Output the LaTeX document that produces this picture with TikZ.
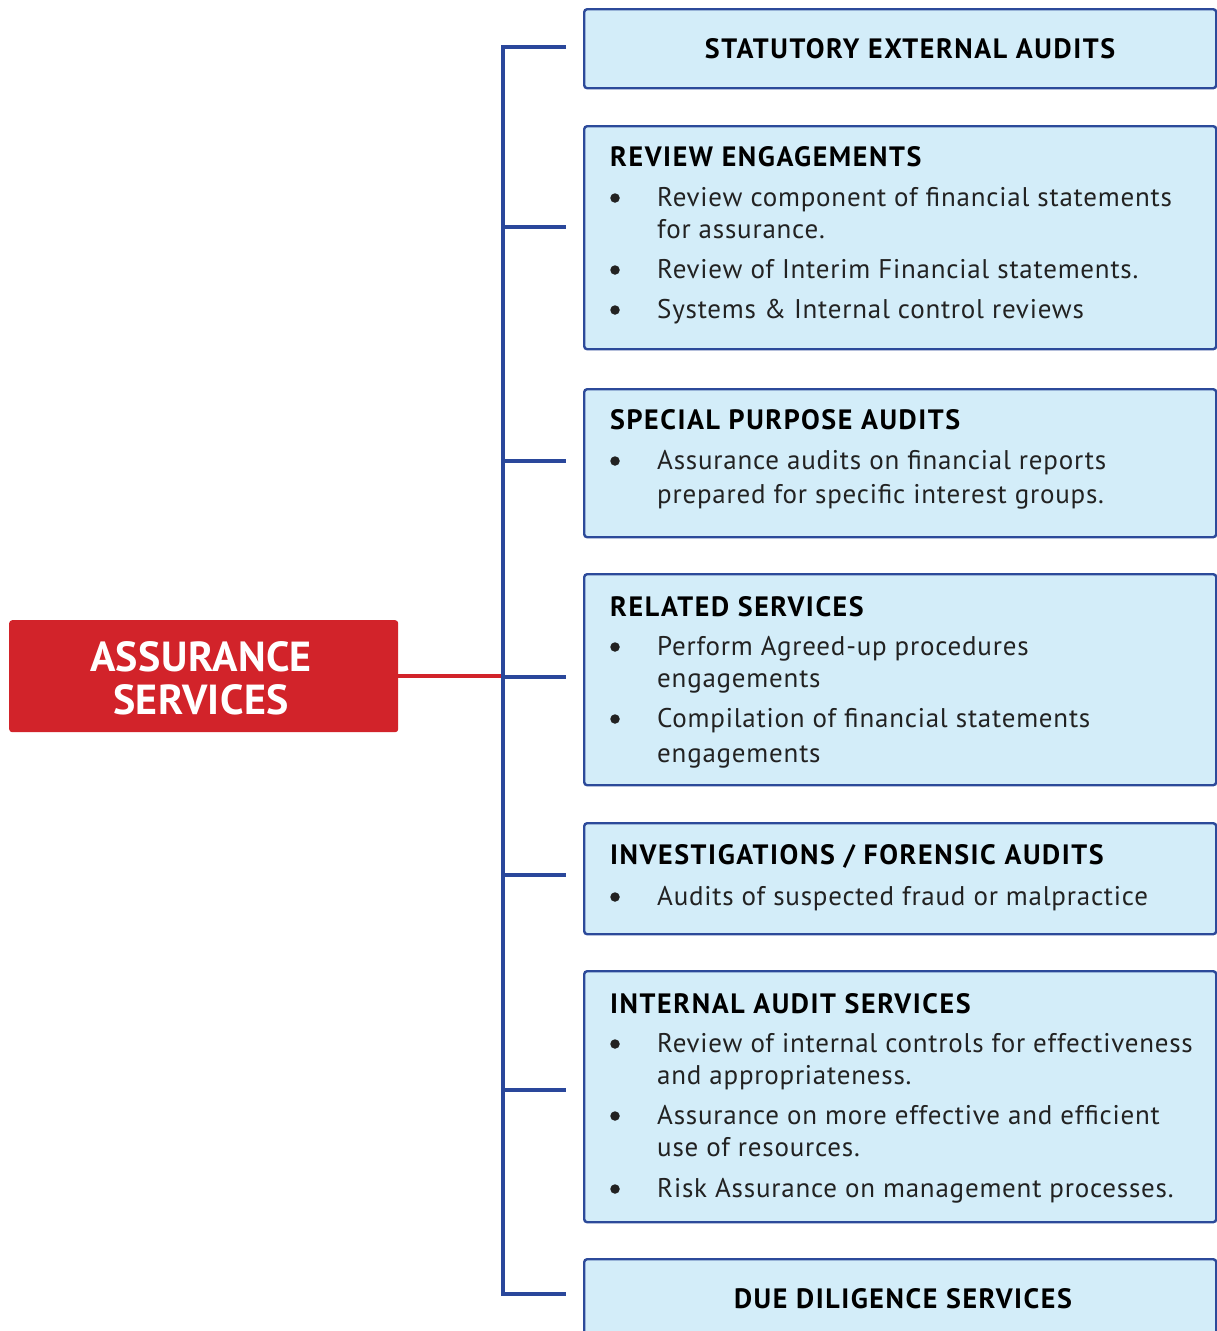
\documentclass[tikz,border=0pt]{standalone}
\usepackage{fontspec}
\setmainfont{PT Sans}
\newfontfamily\headfont[LetterSpace=5.6]{PT Sans}
\newfontfamily\bodyfont[LetterSpace=2.9]{PT Sans}
\newfontfamily\rootfont[LetterSpace=1.0]{PT Sans}
\definecolor{boxfill}{HTML}{D3EDF9}
\definecolor{boxline}{HTML}{2C4A9A}
\definecolor{linkblue}{HTML}{2A479B}
\definecolor{rootred}{HTML}{D2232A}
\definecolor{txt}{HTML}{222222}
\tikzset{
  catbox/.style={draw=boxline, line width=2.4pt, fill=boxfill, rounded corners=3pt, anchor=north west, minimum width=632pt, inner sep=0pt},
  root/.style={fill=rootred, rounded corners=3pt, anchor=north west, minimum width=389pt, minimum height=112pt, inner sep=0pt},
  head/.style={anchor=base west, inner sep=0pt, font=\headfont\fontsize{28}{32}\selectfont\bfseries, text=black},
  headc/.style={anchor=base, inner sep=0pt, font=\headfont\fontsize{28}{32}\selectfont\bfseries, text=black},
  item/.style={anchor=base west, inner sep=0pt, font=\bodyfont\fontsize{27}{31}\selectfont, text=txt},
  rootlabel/.style={anchor=base, inner sep=0pt, text=white, font=\rootfont\fontsize{42}{46}\selectfont\bfseries},
  bul/.style={circle, fill=txt, inner sep=0pt, minimum size=9.5pt},
  link/.style={draw=linkblue, line width=3.5pt},
  rootlink/.style={draw=rootred, line width=3.5pt},
}
\begin{document}
\begin{tikzpicture}[x=1pt,y=-1pt]
\useasboundingbox (0,0) rectangle (1216,1331);
% root
\node[root] (root) at (9,620) {};
\node[rootlabel] (rt1) at (201,671) {ASSURANCE};
\node[rootlabel] (rt2) at (201,714) {SERVICES};
% boxes
\node[catbox, minimum height=79pt] (b1) at (583,8) {};
\node[catbox, minimum height=223pt] (b2) at (583,125) {};
\node[catbox, minimum height=148pt] (b3) at (583,388) {};
\node[catbox, minimum height=211pt] (b4) at (583,573) {};
\node[catbox, minimum height=111pt] (b5) at (583,822) {};
\node[catbox, minimum height=251pt] (b6) at (583,970) {};
\node[catbox, minimum height=120pt] (b7) at (583,1258) {};
% connectors
\coordinate (trunk) at (503,676);
\coordinate (t1) at (503,47);
\coordinate (t2) at (503,227);
\coordinate (t3) at (503,461);
\coordinate (t4) at (503,677);
\coordinate (t5) at (503,875);
\coordinate (t6) at (503,1090);
\coordinate (t7) at (503,1294);
\coordinate (e1) at (566,47);
\coordinate (e2) at (566,227);
\coordinate (e3) at (566,461);
\coordinate (e4) at (566,677);
\coordinate (e5) at (566,875);
\coordinate (e6) at (566,1090);
\coordinate (e7) at (566,1294);
\draw[rootlink] (root.east |- trunk) -- (trunk);
\draw[link] (e1) -- (t1) -- (t7) -- (e7);
\draw[link] (t2) -- (e2);
\draw[link] (t3) -- (e3);
\draw[link] (t4) -- (e4);
\draw[link] (t5) -- (e5);
\draw[link] (t6) -- (e6);
% box 1
\node[headc] (h1) at (910,58) {STATUTORY EXTERNAL AUDITS};
% box 2
\node[head] (h2) at (610,166) {REVIEW ENGAGEMENTS};
\node[bul] (u21) at (615,198) {};
\node[item] (i21) at (657,206) {Review component of financial statements};
\node[item] (i21b) at (657,238) {for assurance.};
\node[bul] (u22) at (615,270) {};
\node[item] (i22) at (657,278) {Review of Interim Financial statements.};
\node[bul] (u23) at (615,310) {};
\node[item] (i23) at (657,318) {Systems \& Internal control reviews};
% box 3
\node[head] (h3) at (610,429) {SPECIAL PURPOSE AUDITS};
\node[bul] (u31) at (615,461) {};
\node[item] (i31) at (657,469) {Assurance audits on financial reports};
\node[item] (i31b) at (657,503) {prepared for specific interest groups.};
% box 4
\node[head] (h4) at (610,616) {RELATED SERVICES};
\node[bul] (u41) at (615,647) {};
\node[item] (i41) at (657,655) {Perform Agreed-up procedures};
\node[item] (i41b) at (657,687) {engagements};
\node[bul] (u42) at (615,719) {};
\node[item] (i42) at (657,727) {Compilation of financial statements};
\node[item] (i42b) at (657,762) {engagements};
% box 5
\node[head] (h5) at (610,864) {INVESTIGATIONS / FORENSIC AUDITS};
\node[bul] (u51) at (615,897) {};
\node[item] (i51) at (657,905) {Audits of suspected fraud or malpractice};
% box 6
\node[head] (h6) at (610,1013) {INTERNAL AUDIT SERVICES};
\node[bul] (u61) at (615,1044) {};
\node[item] (i61) at (657,1052) {Review of internal controls for effectiveness};
\node[item] (i61b) at (657,1084) {and appropriateness.};
\node[bul] (u62) at (615,1116) {};
\node[item] (i62) at (657,1124) {Assurance on more effective and efficient};
\node[item] (i62b) at (657,1156) {use of resources.};
\node[bul] (u63) at (615,1189) {};
\node[item] (i63) at (657,1197) {Risk Assurance on management processes.};
% box 7
\node[headc] (h7) at (903,1308) {DUE DILIGENCE SERVICES};
\end{tikzpicture}
\end{document}
